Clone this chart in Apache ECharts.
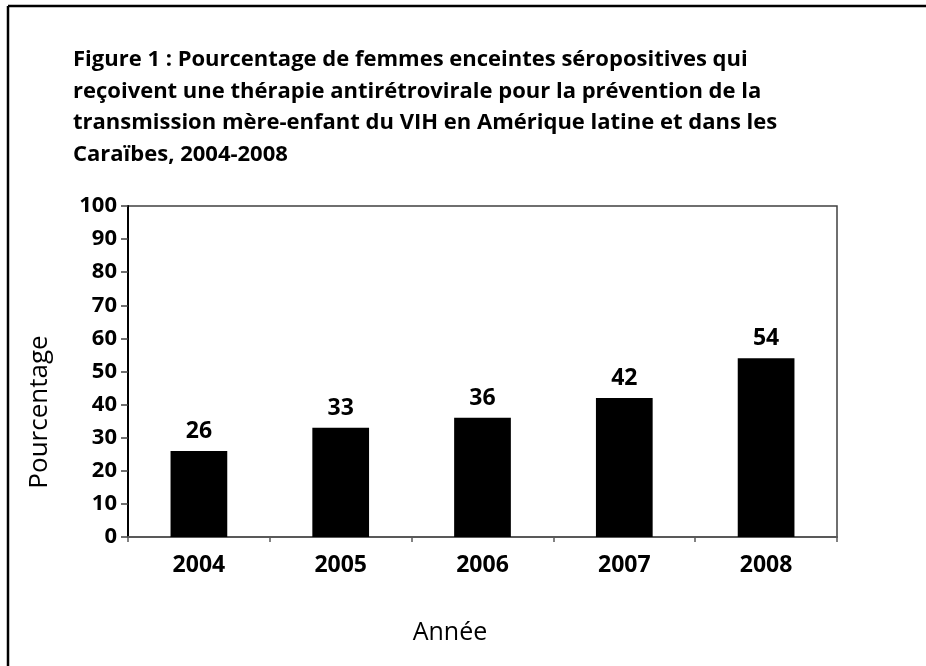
<!DOCTYPE html>
<html>
<head>
<meta charset="utf-8">
<script src="https://cdn.jsdelivr.net/npm/echarts@6/dist/echarts.min.js"></script>
<style>
  html, body { margin: 0; padding: 0; background: #fff; }
  #chart { width: 926px; height: 666px; }
</style>
</head>
<body>
<div id="chart"></div>
<script>
// data
const years = ['2004', '2005', '2006', '2007', '2008'];
const percentages = [26, 33, 36, 42, 54];
const yTicks = [0, 10, 20, 30, 40, 50, 60, 70, 80, 90, 100];

const titleText = 'Figure 1 : Pourcentage de femmes enceintes séropositives qui\n' +
    'reçoivent une thérapie antirétrovirale pour la prévention de la\n' +
    'transmission mère-enfant du VIH en Amérique latine et dans les\n' +
    'Caraïbes, 2004-2008';

const font = '"Open Sans", "Noto Sans", sans-serif';

const getOption = () => {
    return {
        animation: false,
        backgroundColor: '#fff',
        title: {
            text: titleText,
            left: 73,
            top: 44,
            padding: 0,
            textStyle: {
                fontFamily: font,
                fontWeight: 'bold',
                fontSize: 22,
                lineHeight: 31.5,
                color: '#000'
            }
        },
        grid: {
            left: 128,
            right: 89,
            top: 206,
            bottom: 129,
            show: true,
            borderColor: '#404040',
            borderWidth: 1.5,
            backgroundColor: '#fff'
        },
        xAxis: {
            type: 'category',
            data: years,
            axisLine: { lineStyle: { color: '#595959', width: 2 } },
            axisTick: { show: true, length: 5, alignWithLabel: false, lineStyle: { color: '#595959', width: 1.5 } },
            axisLabel: {
                margin: 17,
                fontFamily: font,
                fontWeight: 'bold',
                fontSize: 23,
                color: '#000'
            },
            splitLine: { show: false }
        },
        yAxis: {
            type: 'value',
            min: yTicks[0],
            max: yTicks[yTicks.length - 1],
            interval: yTicks[1] - yTicks[0],
            axisLine: { show: true, lineStyle: { color: '#000', width: 2 } },
            axisTick: { show: true, length: 7, lineStyle: { color: '#404040', width: 1.5 } },
            axisLabel: {
                margin: 11,
                fontFamily: font,
                fontWeight: 'bold',
                fontSize: 22,
                color: '#000'
            },
            splitLine: { show: false }
        },
        series: [
            {
                type: 'bar',
                data: percentages,
                barWidth: '40%',
                itemStyle: { color: '#000' },
                label: {
                    show: true,
                    position: 'top',
                    distance: 8,
                    fontFamily: font,
                    fontWeight: 'bold',
                    fontSize: 23,
                    color: '#000'
                }
            }
        ],
        graphic: [
            // outer frame (top and left edges only)
            { type: 'line', shape: { x1: 8, y1: 6, x2: 926, y2: 6 }, style: { stroke: '#000', lineWidth: 2.5 } },
            { type: 'line', shape: { x1: 8, y1: 6, x2: 8, y2: 666 }, style: { stroke: '#000', lineWidth: 2.5 } },
            {
                type: 'text',
                x: 40, y: 412,
                rotation: Math.PI / 2,
                style: {
                    text: 'Pourcentage',
                    fontFamily: font,
                    fontSize: 26,
                    fill: '#000',
                    align: 'center',
                    verticalAlign: 'middle'
                }
            },
            {
                type: 'text',
                x: 450, y: 633,
                style: {
                    text: 'Année',
                    fontFamily: font,
                    fontSize: 25,
                    fill: '#000',
                    align: 'center',
                    verticalAlign: 'middle'
                }
            }
        ]
    };
};

let chart;
function initChart(){
    chart = echarts.init(document.getElementById('chart'));
    chart.setOption(getOption());
}

document.addEventListener('DOMContentLoaded', function(){
    initChart();
});
</script>
</body>
</html>
